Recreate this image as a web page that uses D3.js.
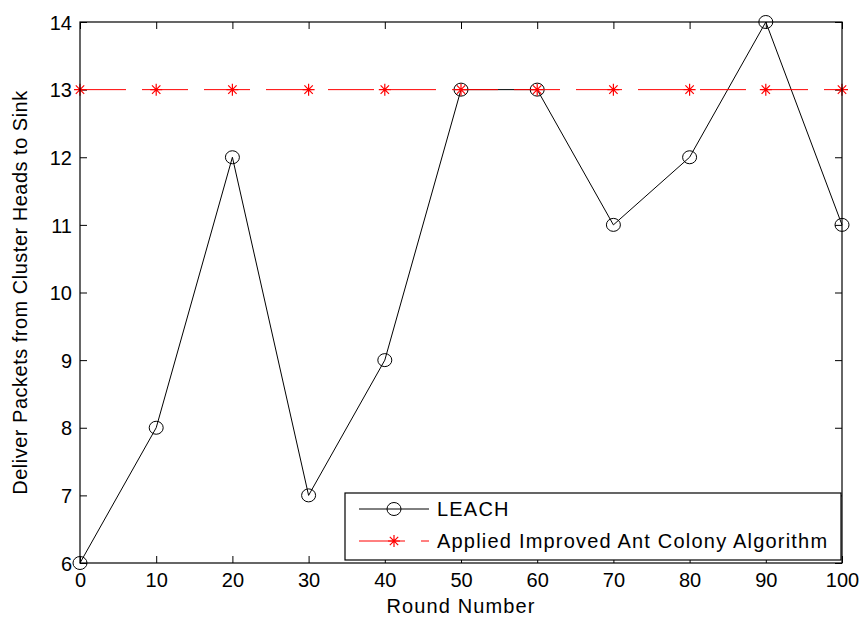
<!DOCTYPE html>
<html>
<head>
<meta charset="utf-8">
<script src="https://cdn.jsdelivr.net/npm/d3@7"></script>
<style>
  body { margin: 0; background: #fff; }
  text { font-family: "Liberation Sans", Arial, sans-serif; fill: #000; }
</style>
</head>
<body>
<div id="graph"></div>
<script>
var rounds = [0, 10, 20, 30, 40, 50, 60, 70, 80, 90, 100]
var leach = [6, 8, 12, 7, 9, 13, 13, 11, 12, 14, 11]
var antColony = [13, 13, 13, 13, 13, 13, 13, 13, 13, 13, 13]
var xTicks = [0, 10, 20, 30, 40, 50, 60, 70, 80, 90, 100]
var yTicks = [6, 7, 8, 9, 10, 11, 12, 13, 14]
var seriesNames = ['LEACH', 'Applied Improved Ant Colony Algorithm']

var margin = {top: 22, right: 19, bottom: 54, left: 80},
    totalW = 861,
    totalH = 617,
    width = totalW - margin.left - margin.right,
    height = totalH - margin.top - margin.bottom

var fontSize = 20

var xScale = d3.scaleLinear().domain([0, 100]).range([0, width])
var yScale = d3.scaleLinear().domain([6, 14]).range([height, 0])

var svg = d3.select('#graph')
  .append('svg')
  .attr('width', totalW)
  .attr('height', totalH)
  .append('g')
  .attr('transform', 'translate(' + margin.left + ',' + margin.top + ')')

// inward ticks on all four sides, like a boxed matlab axes
var tickLen = 7
var xBottom = d3.axisBottom(xScale).tickValues(xTicks).tickSizeInner(-tickLen).tickSizeOuter(0).tickPadding(10)
var xTop = d3.axisTop(xScale).tickValues(xTicks).tickSizeInner(-tickLen).tickSizeOuter(0).tickFormat('')
var yLeft = d3.axisLeft(yScale).tickValues(yTicks).tickSizeInner(-tickLen).tickSizeOuter(0).tickPadding(8)
var yRight = d3.axisRight(yScale).tickValues(yTicks).tickSizeInner(-tickLen).tickSizeOuter(0).tickFormat('')

function styleAxis(g) {
  g.select('.domain').remove()
  g.selectAll('line').attr('stroke', '#000').attr('stroke-width', 1)
  g.selectAll('text').style('font-size', fontSize + 'px').style('font-family', '"Liberation Sans", Arial, sans-serif')
}

svg.append('g').attr('transform', 'translate(0,' + height + ')').call(xBottom).call(styleAxis)
  .selectAll('text').attr('dy', '0.71em')
svg.append('g').call(xTop).call(styleAxis)
svg.append('g').call(yLeft).call(styleAxis)
  .selectAll('text').attr('dy', '0.36em')
svg.append('g').attr('transform', 'translate(' + width + ',0)').call(yRight).call(styleAxis)

// LEACH series
var line = d3.line()
  .x((d, i) => xScale(rounds[i]))
  .y(d => yScale(d))

svg.append('path')
  .datum(leach)
  .attr('fill', 'none')
  .attr('stroke', '#000')
  .attr('stroke-width', 1)
  .attr('d', line)

svg.selectAll('.leach-dot')
  .data(leach)
  .enter()
  .append('ellipse')
  .attr('class', 'leach-dot')
  .attr('cx', (d, i) => xScale(rounds[i]))
  .attr('cy', d => yScale(d))
  .attr('rx', 7)
  .attr('ry', 6.5)
  .attr('fill', 'none')
  .attr('stroke', '#000')
  .attr('stroke-width', 1)

// ant colony series, dashed red with star markers
svg.append('path')
  .datum(antColony)
  .attr('fill', 'none')
  .attr('stroke', '#ff0000')
  .attr('stroke-width', 1)
  .attr('stroke-dasharray', '46,16')
  .attr('d', line)

function star(g, cx, cy, s) {
  var d = 'M' + (cx - s) + ',' + cy + 'H' + (cx + s) +
          'M' + cx + ',' + (cy - s) + 'V' + (cy + s) +
          'M' + (cx - s * 0.7) + ',' + (cy - s * 0.7) + 'L' + (cx + s * 0.7) + ',' + (cy + s * 0.7) +
          'M' + (cx - s * 0.7) + ',' + (cy + s * 0.7) + 'L' + (cx + s * 0.7) + ',' + (cy - s * 0.7)
  g.append('path').attr('d', d).attr('stroke', '#ff0000').attr('stroke-width', 1.2).attr('fill', 'none')
}

antColony.forEach(function(d, i) {
  star(svg, xScale(rounds[i]), yScale(d), 6)
})

// box
svg.append('rect')
  .attr('x', 0).attr('y', 0)
  .attr('width', width).attr('height', height)
  .attr('fill', 'none')
  .attr('stroke', '#000')
  .attr('stroke-width', 1.2)

// axis labels
svg.append('text')
  .attr('x', width / 2)
  .attr('y', height + 50)
  .attr('text-anchor', 'middle')
  .style('font-size', fontSize + 'px')
  .style('letter-spacing', '1.1px')
  .text('Round Number')

svg.append('text')
  .attr('transform', 'translate(' + (-53) + ',' + (height / 2) + ') rotate(-90)')
  .attr('text-anchor', 'middle')
  .style('font-size', fontSize + 'px')
  .style('letter-spacing', '0.5px')
  .text('Deliver Packets from Cluster Heads to Sink')

// legend
var lg = svg.append('g').attr('transform', 'translate(' + (345 - margin.left) + ',' + (493 - margin.top) + ')')
lg.append('rect')
  .attr('width', 841 - 345)
  .attr('height', 560 - 493)
  .attr('fill', '#fff')
  .attr('stroke', '#000')
  .attr('stroke-width', 1.2)

var rowY = [16, 48]
lg.append('line').attr('x1', 14).attr('x2', 84).attr('y1', rowY[0]).attr('y2', rowY[0])
  .attr('stroke', '#000').attr('stroke-width', 1)
lg.append('ellipse').attr('cx', 49).attr('cy', rowY[0]).attr('rx', 7).attr('ry', 6.5)
  .attr('fill', 'none').attr('stroke', '#000')
lg.append('line').attr('x1', 14).attr('x2', 84).attr('y1', rowY[1]).attr('y2', rowY[1])
  .attr('stroke', '#ff0000').attr('stroke-width', 1).attr('stroke-dasharray', '46,16')
star(lg, 49, rowY[1], 6)

lg.selectAll('.legend-text')
  .data(seriesNames)
  .enter()
  .append('text')
  .attr('class', 'legend-text')
  .attr('x', 92)
  .attr('y', (d, i) => rowY[i])
  .attr('dy', '0.36em')
  .style('font-size', fontSize + 'px')
  .style('letter-spacing', '1.2px')
  .text(d => d)
</script>
</body>
</html>
